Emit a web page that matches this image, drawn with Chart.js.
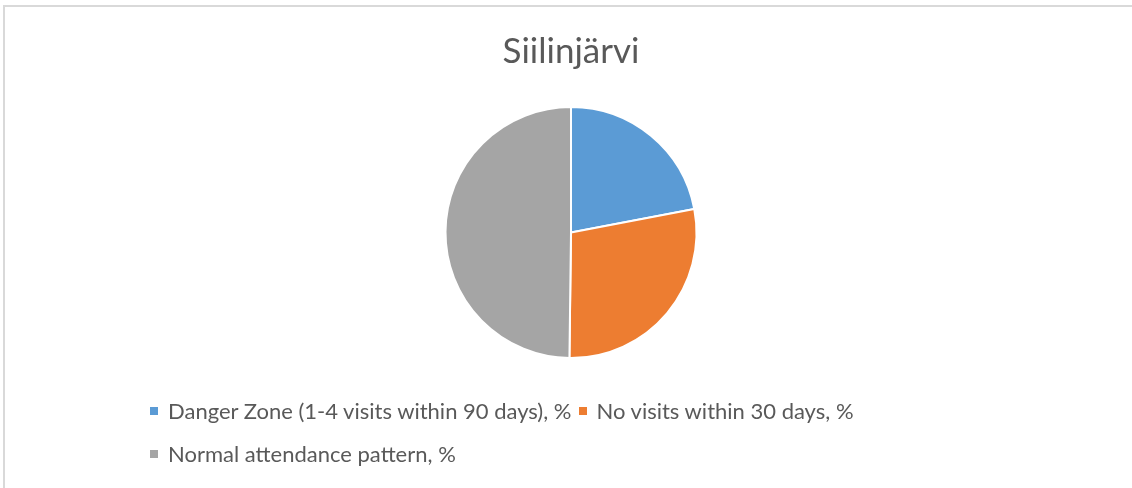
<!DOCTYPE html>
<html>
<head>
<meta charset="utf-8">
<script src="https://cdn.jsdelivr.net/npm/chart.js@4/dist/chart.umd.min.js"></script>
<style>
  html, body { margin: 0; padding: 0; background: #fff; }
  #wrap { position: relative; width: 1132px; height: 488px; overflow: hidden; }
  #frame { position: absolute; left: 3px; top: 5px; width: 1200px; height: 600px;
           border-top: 2px solid #d9d9d9; border-left: 2px solid #d9d9d9; }
  #chartPie { position: absolute; left: 0; top: 0; }
  #legend { position: absolute; left: 150px; top: 399px; width: 760px;
            display: flex; flex-wrap: wrap; row-gap: 19px; column-gap: 7px;
            font-family: Lato, sans-serif; font-size: 22px; line-height: 24px; color: #595959; }
  .item { display: flex; align-items: center; height: 24px; white-space: nowrap; }
  .box { width: 8px; height: 8px; margin-right: 10px; }
</style>
</head>
<body>
<div id="wrap">
  <div id="frame"></div>
  <canvas id="chartPie" width="1132" height="488"></canvas>
  <div id="legend"></div>
</div>
<script>
// datos del gráfico
const titulo = 'Siilinjärvi';
const categorias = ['Danger Zone (1-4 visits within 90 days), %', 'No visits within 30 days, %', 'Normal attendance pattern, %'];
const valores = [22, 28.2, 49.8];
const colores = ['#5B9BD5', '#ED7D31', '#A5A5A5'];

function initPie() {
  const ctx = document.getElementById('chartPie').getContext('2d');
  new Chart(ctx, {
    type: 'pie',
    data: {
      labels: categorias,
      datasets: [{ data: valores, backgroundColor: colores, borderColor: '#ffffff', borderWidth: 2 }]
    },
    options: {
      responsive: false, animation: false,
      layout: { padding: { left: 10, bottom: 129 } },
      plugins: {
        legend: { display: false },
        tooltip: { enabled: false },
        title: { display: true, text: titulo, color: '#595959', font: { family: 'Lato', size: 35, weight: 'normal' }, padding: { top: 31, bottom: 33 } }
      }
    }
  });

  // leyenda en HTML
  const legend = document.getElementById('legend');
  categorias.forEach((c, i) => {
    legend.innerHTML += `<span class="item"><span class="box" style="background:${colores[i]}"></span>${c}</span>`;
  });
}
initPie();
</script>
</body>
</html>
